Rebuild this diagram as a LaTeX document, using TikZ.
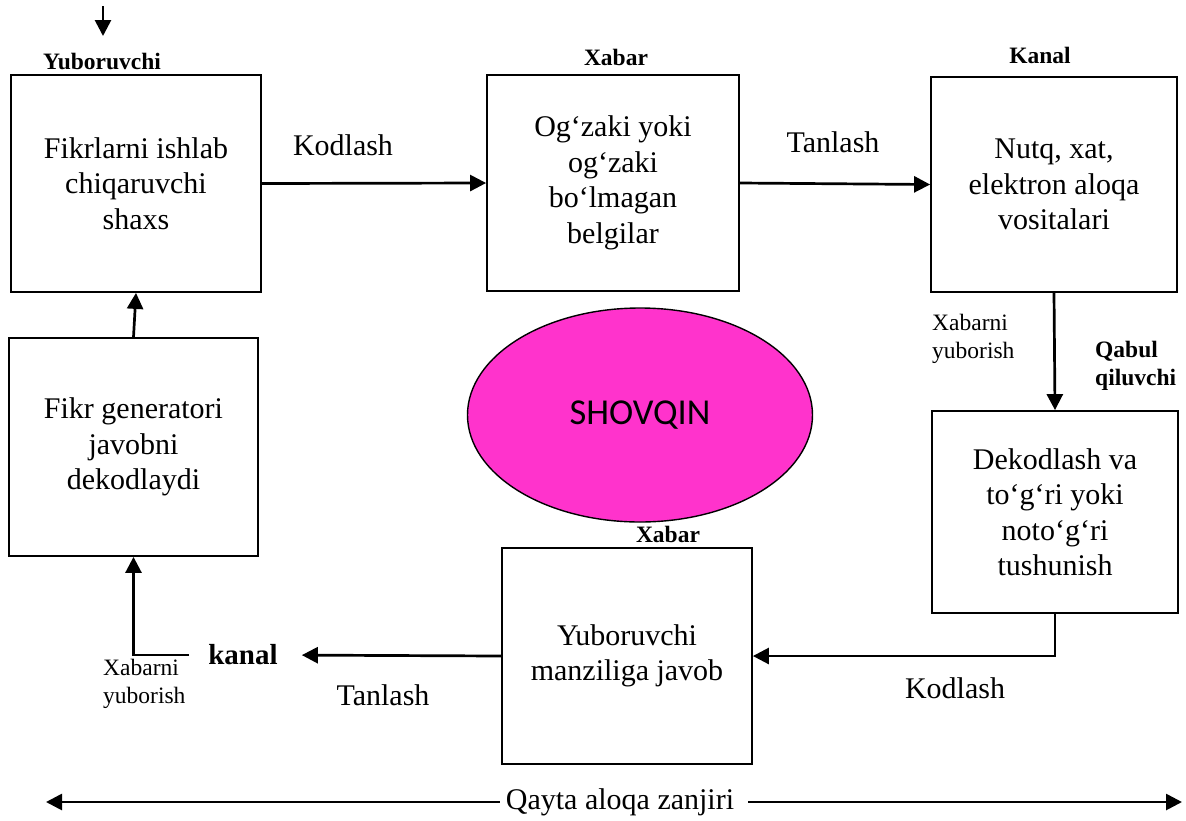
\documentclass[tikz,border=0pt]{standalone}
\usepackage{fontspec}
\setmainfont{Liberation Serif}
\newfontfamily\noisefont{Carlito}
\usetikzlibrary{arrows.meta,shapes.geometric}
\definecolor{noisepink}{RGB}{255,51,204}
\begin{document}
\begin{tikzpicture}[x=1pt,y=-1pt,
  stage/.style={draw,line width=1.8pt,rectangle,inner sep=0pt,align=center,
    font=\fontsize{30}{35.5}\selectfont},
  flow/.style={line width=2.7pt,-{Triangle[length=16pt,width=16pt]}},
  role/.style={font=\fontsize{23.5}{28}\selectfont\bfseries,inner sep=0pt,align=left},
  act/.style={font=\fontsize{30}{35}\selectfont,inner sep=0pt},
  note/.style={font=\fontsize{23.5}{27.5}\selectfont,inner sep=0pt,align=left,anchor=west}]
\useasboundingbox (0,0) rectangle (1186,820);

% main stages of the communication process
\node[stage,minimum width=250,minimum height=217] (sender) at (136,183.5)
  {Fikrlarni ishlab\\chiqaruvchi\\shaxs};
\node[stage,minimum width=252,minimum height=216] (message) at (613,183)
  {Og‘zaki yoki\\og‘zaki\\bo‘lmagan\\belgilar};
\node[stage,minimum width=246,minimum height=215] (channel) at (1054,184.5)
  {Nutq, xat,\\elektron aloqa\\vositalari};
\node[stage,minimum width=246,minimum height=202] (decode) at (1055,512)
  {Dekodlash va\\to‘g‘ri yoki\\noto‘g‘ri\\tushunish};
\node[stage,minimum width=250,minimum height=216] (reply) at (627,656)
  {Yuboruvchi\\manziliga javob};
\node[stage,minimum width=249,minimum height=218] (generator) at (133.5,447)
  {Fikr generatori\\javobni\\dekodlaydi};

% noise
\node[ellipse,draw,line width=1.4pt,fill=noisepink,minimum width=345,minimum height=214,
  inner sep=0pt,font=\noisefont\fontsize{36.5}{40}\selectfont] (noise) at (640,415) {SHOVQIN};

% role labels
\node[role] (lsender) at (102,61) {Yuboruvchi};
\node[role] (lmessage) at (616,57) {Xabar};
\node[role] (lchannel) at (1040,55) {Kanal};
\node[role,anchor=west] (lreceiver) at (1095,366) {Qabul\\qiluvchi};
\node[role] (lreply) at (668,534) {Xabar};
\node[font=\fontsize{29}{34}\selectfont\bfseries,inner sep=0pt] (kanal) at (243,655) {kanal};

% action labels
\node[act] (kod1) at (343,145) {Kodlash};
\node[act] (tan1) at (833,142) {Tanlash};
\node[act] (kod2) at (955,688) {Kodlash};
\node[act] (tan2) at (383,695) {Tanlash};
\node[note] (send1) at (932,339) {Xabarni\\yuborish};
\node[note] (send2) at (103,684) {Xabarni\\yuborish};
\node[act] (loop) at (620,802) {Qayta aloqa zanjiri};

% connectors
\coordinate (start) at (103,6);
\coordinate (starttip) at (103,36);
\draw[flow] (start) -- (starttip);
\draw[flow] (sender.east) -- (message.west);
\draw[flow] (message.east) -- (channel.west);
\draw[flow] (channel.south) -- (decode.north);
\draw[flow] (decode.south) |- (reply.east);
\draw[flow,shorten >=24pt] (reply.west) -- (kanal.east);
\draw[flow] ([xshift=-19pt]kanal.west) -| (generator.south);
\draw[flow] (generator.north) -- (sender.south);

% feedback loop span
\coordinate (loopleft) at (46,802);
\coordinate (loopright) at (1182,802);
\draw[flow,shorten <=6pt] (loop.west) -- (loopleft);
\draw[flow,shorten <=14pt] (loop.east) -- (loopright);
\end{tikzpicture}
\end{document}
